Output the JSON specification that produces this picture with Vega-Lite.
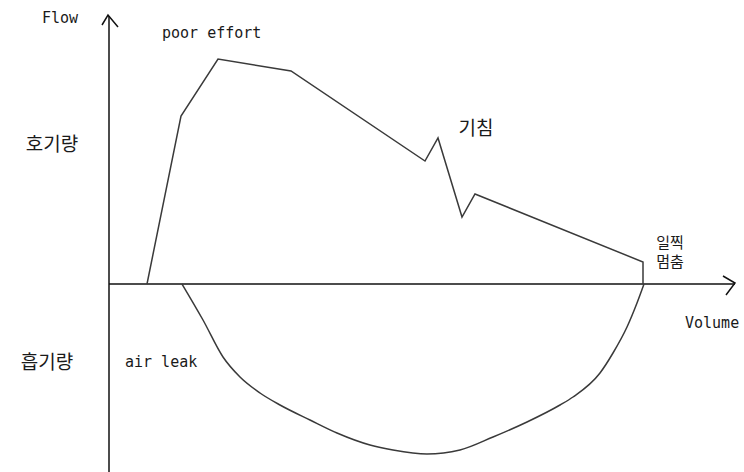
{
  "$schema": "https://vega.github.io/schema/vega-lite/v6.json",
  "width": 744,
  "height": 472,
  "autosize": "none",
  "padding": 0,
  "background": "white",
  "config": {"view": {"stroke": null}},
  "datasets": {
    "axes": [
      {"part": "yaxis", "i": 0, "vol": 0, "flow": -188},
      {"part": "yaxis", "i": 1, "vol": 0, "flow": 268},
      {"part": "xaxis", "i": 0, "vol": 0, "flow": 0},
      {"part": "xaxis", "i": 1, "vol": 626, "flow": 0},
      {"part": "yarrow", "i": 0, "vol": -7, "flow": 259},
      {"part": "yarrow", "i": 1, "vol": -1, "flow": 269},
      {"part": "yarrow", "i": 2, "vol": 9, "flow": 257},
      {"part": "xarrow", "i": 0, "vol": 614, "flow": 8},
      {"part": "xarrow", "i": 1, "vol": 626, "flow": 1},
      {"part": "xarrow", "i": 2, "vol": 617, "flow": -11}
    ],
    "expiration": [
      {"i": 0, "vol": 38, "flow": 0},
      {"i": 1, "vol": 72, "flow": 168},
      {"i": 2, "vol": 109, "flow": 225},
      {"i": 3, "vol": 182, "flow": 213},
      {"i": 4, "vol": 316, "flow": 123},
      {"i": 5, "vol": 329, "flow": 146},
      {"i": 6, "vol": 353, "flow": 67},
      {"i": 7, "vol": 366, "flow": 90},
      {"i": 8, "vol": 534, "flow": 22},
      {"i": 9, "vol": 534, "flow": 0}
    ],
    "inspiration": [
      {"vol": 73, "flow": 0},
      {"vol": 94, "flow": -36},
      {"vol": 114, "flow": -73},
      {"vol": 131, "flow": -93},
      {"vol": 151, "flow": -109},
      {"vol": 171, "flow": -121},
      {"vol": 201, "flow": -136},
      {"vol": 228, "flow": -149},
      {"vol": 261, "flow": -161},
      {"vol": 284, "flow": -166},
      {"vol": 318, "flow": -170},
      {"vol": 351, "flow": -166},
      {"vol": 384, "flow": -153},
      {"vol": 418, "flow": -138},
      {"vol": 451, "flow": -121},
      {"vol": 464, "flow": -113},
      {"vol": 491, "flow": -89},
      {"vol": 504, "flow": -69},
      {"vol": 518, "flow": -43},
      {"vol": 528, "flow": -19},
      {"vol": 535, "flow": 0}
    ],
    "latin": [
      {"label": "Flow", "vol": -67, "flow": 261},
      {"label": "poor effort", "vol": 53, "flow": 246},
      {"label": "air leak", "vol": 16, "flow": -83},
      {"label": "Volume", "vol": 576, "flow": -44}
    ],
    "korean": [
      {"label": "호기량", "vol": -57, "flow": 139},
      {"label": "흡기량", "vol": -62, "flow": -79},
      {"label": "기침", "vol": 367, "flow": 155}
    ],
    "stacked": [
      {"label": "일찍 멈춤", "vol": 561, "flow": 41}
    ]
  },
  "encoding": {
    "x": {"field": "vol", "type": "quantitative", "scale": {"domain": [-109, 635], "nice": false, "zero": false}, "axis": null},
    "y": {"field": "flow", "type": "quantitative", "scale": {"domain": [-188, 284], "nice": false, "zero": false}, "axis": null}
  },
  "layer": [
    {
      "data": {"name": "axes"},
      "mark": {"type": "line", "color": "#111111", "strokeWidth": 1.5, "clip": false},
      "encoding": {
        "detail": {"field": "part", "type": "nominal"},
        "order": {"field": "i", "type": "quantitative"}
      }
    },
    {
      "data": {"name": "expiration"},
      "mark": {"type": "line", "color": "#3a3a3a", "strokeWidth": 1.5, "strokeJoin": "miter"},
      "encoding": {
        "order": {"field": "i", "type": "quantitative"}
      }
    },
    {
      "data": {"name": "inspiration"},
      "mark": {"type": "line", "color": "#3a3a3a", "strokeWidth": 1.5, "interpolate": "monotone"},
      "encoding": {
        "order": {"field": "vol", "type": "quantitative"}
      }
    },
    {
      "data": {"name": "latin"},
      "mark": {"type": "text", "font": "DejaVu Sans Mono", "fontSize": 15, "align": "left", "baseline": "alphabetic", "color": "#1a1a1a"},
      "encoding": {"text": {"field": "label", "type": "nominal"}}
    },
    {
      "data": {"name": "korean"},
      "mark": {"type": "text", "font": "Noto Sans CJK KR", "fontSize": 19, "align": "center", "baseline": "middle", "color": "#1a1a1a"},
      "encoding": {"text": {"field": "label", "type": "nominal"}}
    },
    {
      "data": {"name": "stacked"},
      "mark": {"type": "text", "font": "Noto Sans CJK KR", "fontSize": 15, "lineBreak": " ", "lineHeight": 19, "align": "center", "baseline": "middle", "color": "#1a1a1a"},
      "encoding": {"text": {"field": "label", "type": "nominal"}}
    }
  ]
}
